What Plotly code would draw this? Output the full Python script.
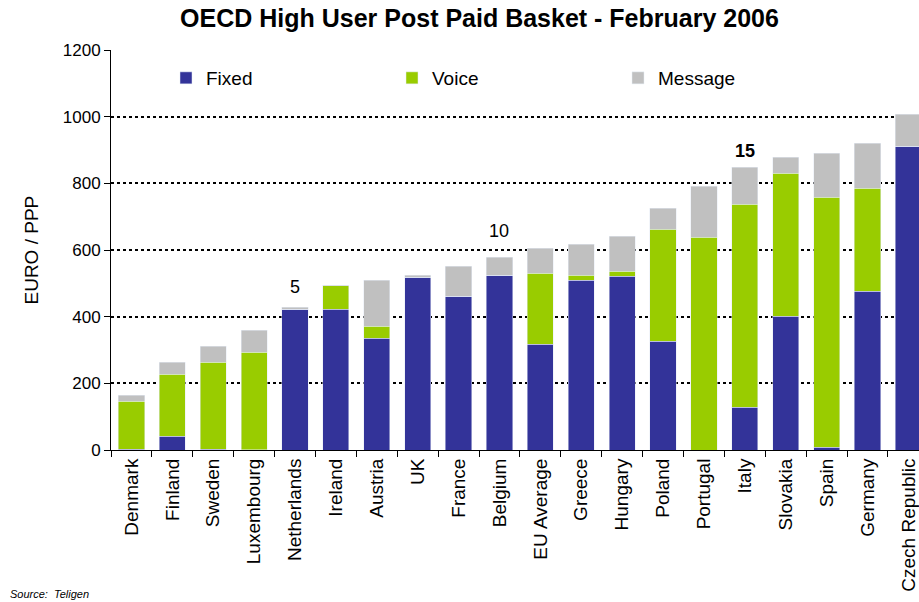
import plotly.graph_objects as go

categories = ["Denmark", "Finland", "Sweden", "Luxembourg", "Netherlands", "Ireland",
              "Austria", "UK", "France", "Belgium", "EU Average", "Greece", "Hungary",
              "Poland", "Portugal", "Italy", "Slovakia", "Spain", "Germany", "Czech Republic"]
fixed = [3, 42, 3, 1, 423, 423, 336, 519, 462, 525, 318, 510, 522, 327, 0, 129, 402, 9, 477, 912]
voice = [144, 186, 261, 293, 0, 70, 36, 0, 0, 0, 213, 15, 15, 336, 639, 609, 429, 750, 309, 0]
message = [18, 36, 48, 66, 6, 2, 138, 6, 90, 54, 75, 93, 105, 63, 153, 111, 48, 132, 135, 96]

rank_labels = ["5", "10", "15"]
rank_cats = ["Netherlands", "Belgium", "Italy"]
rank_y = [489, 657, 897]
rank_bold = [False, False, True]

FONT = "Liberation Sans, Arial, sans-serif"

fig = go.Figure()
fig.add_trace(go.Bar(name="Fixed", x=categories, y=fixed, marker_color="#333399", width=0.64))
fig.add_trace(go.Bar(name="Voice", x=categories, y=voice, marker_color="#99CC00", width=0.64))
fig.add_trace(go.Bar(name="Message", x=categories, y=message, marker_color="#C0C0C0", width=0.64))

for lab, c, yv, b in zip(rank_labels, rank_cats, rank_y, rank_bold):
    fig.add_annotation(x=c, y=yv, text=f"<b>{lab}</b>" if b else lab, showarrow=False,
                       font=dict(size=18, color="black", family=FONT), yanchor="middle")

fig.add_annotation(text="EURO / PPP", xref="paper", yref="paper", x=(18 - 111) / 808, y=0.5,
                   textangle=-90, showarrow=False, font=dict(size=19, color="black", family=FONT))
fig.add_annotation(text="<i>Source:  Teligen</i>", xref="paper", yref="paper",
                   x=-103 / 808, y=-(594 - 450) / 400, xanchor="left", yanchor="middle",
                   showarrow=False, font=dict(size=11, color="black", family=FONT))

fig.update_layout(
    width=919, height=602,
    margin=dict(l=111, r=0, t=50, b=152),
    paper_bgcolor="white", plot_bgcolor="white",
    barmode="stack",
    font=dict(family=FONT, color="black"),
    title=dict(text="<b>OECD High User Post Paid Basket - February 2006</b>",
               x=479.5 / 919, xanchor="center", xref="container",
               y=1 - 18 / 602, yanchor="middle", yref="container",
               font=dict(size=25, color="black", family=FONT)),
    legend=dict(orientation="h", x=(166 - 111) / 808, y=(450 - 78) / 400, xanchor="left",
                yanchor="middle", entrywidth=181, entrywidthmode="pixels",
                font=dict(size=19, color="black", family=FONT), bgcolor="rgba(0,0,0,0)",
                traceorder="normal"),
    showlegend=True,
)
fig.update_xaxes(range=[-0.5, 19.26], tickangle=-90, showline=True, linecolor="black",
                 linewidth=1, ticks="outside", tickson="boundaries", ticklen=6,
                 tickcolor="black", tickfont=dict(size=19, color="black", family=FONT),
                 showgrid=False)
fig.update_yaxes(range=[0, 1200.5], tickvals=[0, 200, 400, 600, 800, 1000, 1200],
                 showline=True, linecolor="black", linewidth=1, ticks="outside", ticklen=6,
                 tickcolor="black", tickfont=dict(size=17, color="black", family=FONT),
                 showgrid=True, gridcolor="black", gridwidth=2, griddash="dot",
                 zeroline=False)

fig.write_html("out.html")
